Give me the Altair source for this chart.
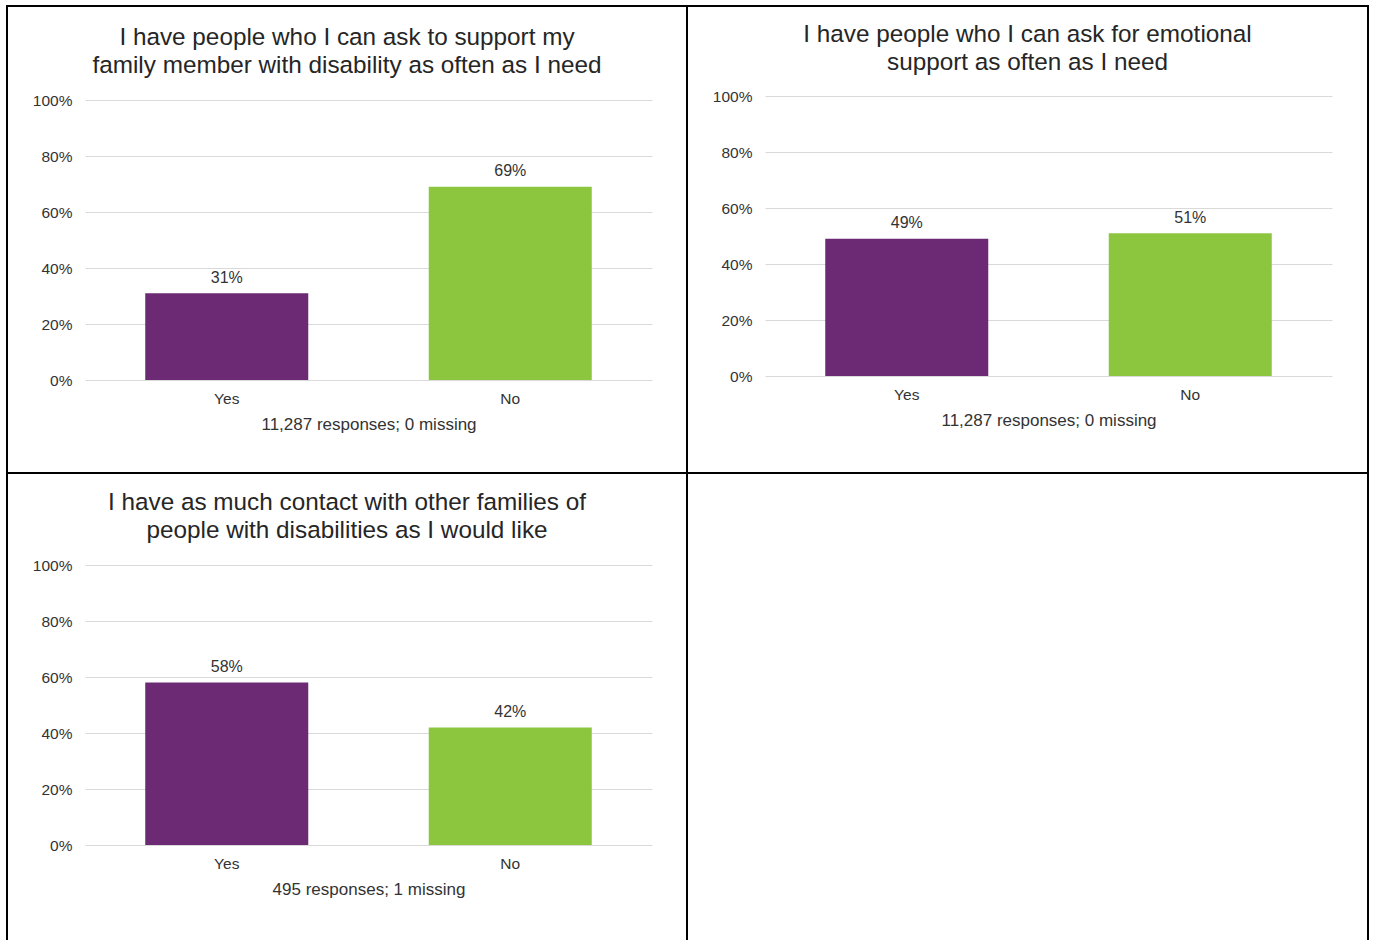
import altair as alt
import pandas as pd

# Answer categories shared by every question
answers = ["Yes", "No"]
bar_colors = ["#6B2A73", "#8CC63F"]

# Question 1
family_title = ["I have people who I can ask to support my",
                "family member with disability as often as I need"]
family_pct = [31, 69]
family_note = "11,287 responses; 0 missing"

# Question 2
emotional_title = ["I have people who I can ask for emotional",
                   "support as often as I need"]
emotional_pct = [49, 51]
emotional_note = "11,287 responses; 0 missing"

# Question 3
contact_title = ["I have as much contact with other families of",
                 "people with disabilities as I would like"]
contact_pct = [58, 42]
contact_note = "495 responses; 1 missing"

FONT = "Liberation Sans"
TEXT = "#333333"
TITLE = "#262626"
GRID = "#D9D9D9"
PLOT_LEFT, PLOT_RIGHT = 78, 645


def panel(title, pct, note, cell_w, cell_h, zero_y, top_y, title_offset):
    """One bordered cell: the view is the whole cell, the bars sit in a
    sub-range of it so axes, title and note all stay inside the border."""
    df = pd.DataFrame({"answer": answers, "share": pct})

    x = alt.X(
        "answer:N",
        sort=answers,
        scale=alt.Scale(range=[PLOT_LEFT, PLOT_RIGHT],
                        paddingInner=0.425, paddingOuter=0.2125),
        axis=alt.Axis(
            title=note, labelAngle=0, offset=zero_y - cell_h,
            domain=False, ticks=False, tickSize=0, grid=False,
            labelPadding=11, titlePadding=9.5,
            labelFontSize=15.5, titleFontSize=17, titleFontWeight="normal",
            labelColor=TEXT, titleColor=TEXT, labelFont=FONT, titleFont=FONT,
        ),
    )
    y = alt.Y(
        "share:Q",
        scale=alt.Scale(domain=[0, 100], range=[zero_y, top_y], nice=False),
        axis=alt.Axis(
            title=None, values=[0, 20, 40, 60, 80, 100],
            labelExpr="datum.value + '%'", offset=-PLOT_LEFT,
            domain=False, ticks=False, tickSize=0, labelPadding=13,
            grid=True, gridColor=GRID, gridWidth=1,
            labelFontSize=15.5, labelColor=TEXT, labelFont=FONT,
        ),
    )

    base = alt.Chart(df)
    bars = base.mark_bar().encode(
        x=x, y=y,
        color=alt.Color("answer:N",
                        scale=alt.Scale(domain=answers, range=bar_colors),
                        legend=None),
    )
    labels = base.transform_calculate(
        label="datum.share + '%'"
    ).mark_text(
        baseline="alphabetic", dy=-10.5, fontSize=16, font=FONT, color=TEXT
    ).encode(x=x, y=y, text="label:N")

    return alt.layer(bars, labels).properties(
        width=cell_w,
        height=cell_h,
        title=alt.TitleParams(
            text=title, anchor="middle", frame="group",
            offset=title_offset, fontSize=24.3, lineHeight=28, font=FONT,
            fontWeight="normal", color=TITLE,
        ),
    )


p1 = panel(family_title, family_pct, family_note, 680, 467, 374, 94, -72)
p2 = panel(emotional_title, emotional_pct, emotional_note, 681, 467, 370, 90, -69)
p3 = panel(contact_title, contact_pct, contact_note, 680, 470, 372, 92, -70)

# Empty fourth cell, kept only for its border
blank = alt.Chart(
    pd.DataFrame({"answer": pd.Series([], dtype=str),
                  "share": pd.Series([], dtype=float)})
).mark_bar().encode(
    x=alt.X("answer:N", axis=None),
    y=alt.Y("share:Q", axis=None),
).properties(width=681, height=470)

chart = alt.concat(
    p1, p2, p3, blank, columns=2, spacing=0, bounds="flush"
).properties(
    padding={"left": 6, "top": 5, "right": 0, "bottom": 0},
    background="white",
).configure_view(
    stroke="black", strokeWidth=2, fill="white"
)

chart.save("out.html", embed_options={"renderer": "svg", "actions": False})
